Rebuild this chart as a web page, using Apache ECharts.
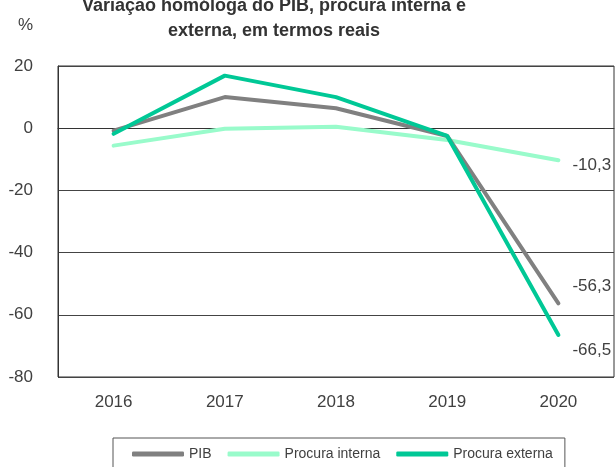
<!DOCTYPE html>
<html><head><meta charset="utf-8">
<script src="https://cdn.jsdelivr.net/npm/echarts@6/dist/echarts.min.js"></script>
<style>html,body{margin:0;padding:0;background:#fff}#c{width:616px;height:467px}</style>
</head><body><div id="c"></div>
<script>
var categories = ['2016','2017','2018','2019','2020'];
var pib = [-0.8, 10.0, 6.4, -2.5, -56.3];
var procuraInterna = [-5.6, -0.2, 0.5, -3.8, -10.3];
var procuraExterna = [-1.8, 16.9, 10.0, -2.5, -66.5];
var yTicks = [-80, -60, -40, -20, 0, 20];

var FONT = '"Liberation Sans", Arial, sans-serif';
var TXT = '#404040';
function fmt(v){ return String(v).replace('.', ','); }
function endLabel(offY){
  return {show: true, distance: 14, offset: [0, offY],
    formatter: function(p){ return fmt(p.value); }, fontSize: 17, color: TXT, fontFamily: FONT};
}
var chart = echarts.init(document.getElementById('c'), null, {renderer: 'canvas'});
chart.setOption({
  animation: false,
  title: [{
    text: 'Variação homóloga do PIB, procura interna e\nexterna, em termos reais',
    left: 274, textAlign: 'center', top: -6, padding: 0,
    textStyle: {fontFamily: FONT, fontSize: 18, fontWeight: 'bold', color: '#333', lineHeight: 25}
  },{
    text: '%', left: 18, top: 17, padding: 0,
    textStyle: {fontFamily: FONT, fontSize: 17, fontWeight: 'normal', color: TXT}
  }],
  grid: {left: 58, right: 2, top: 66, bottom: 90, show: true, borderColor: '#333', borderWidth: 1, containLabel: false},
  legend: {
    data: ['PIB','Procura interna','Procura externa'],
    left: 113, top: 438, width: 470,
    padding: [9, 12, 9, 19],
    borderColor: '#555', borderWidth: 1,
    itemWidth: 52, itemHeight: 5, itemGap: 16,
    icon: 'roundRect',
    textStyle: {fontFamily: FONT, fontSize: 14, color: TXT}
  },
  xAxis: {
    type: 'category', data: categories, boundaryGap: true,
    axisLine: {show: true, lineStyle: {color: '#333'}},
    axisTick: {show: false},
    axisLabel: {fontFamily: FONT, fontSize: 17, color: TXT, margin: 17}
  },
  yAxis: {
    type: 'value', min: yTicks[0], max: yTicks[yTicks.length-1], interval: 20,
    axisLine: {show: true, lineStyle: {color: '#333'}},
    axisTick: {show: false},
    splitLine: {show: true, lineStyle: {color: '#444', width: 1}},
    axisLabel: {fontFamily: FONT, fontSize: 17, color: TXT, margin: 25}
  },
  series: [
    {name: 'PIB', type: 'line', data: pib, showSymbol: false, symbol: 'none',
      endLabel: endLabel(-17),
      lineStyle: {color: '#808080', width: 4, cap: 'round'}, itemStyle: {color: '#808080'}, z: 3},
    {name: 'Procura interna', type: 'line', data: procuraInterna, showSymbol: false, symbol: 'none',
      endLabel: endLabel(5),
      lineStyle: {color: '#99FBCB', width: 4, cap: 'round'}, itemStyle: {color: '#99FBCB'}, z: 2},
    {name: 'Procura externa', type: 'line', data: procuraExterna, showSymbol: false, symbol: 'none',
      endLabel: endLabel(15),
      lineStyle: {color: '#00C896', width: 4, cap: 'round'}, itemStyle: {color: '#00C896'}, z: 4}
  ]
});
</script></body></html>
